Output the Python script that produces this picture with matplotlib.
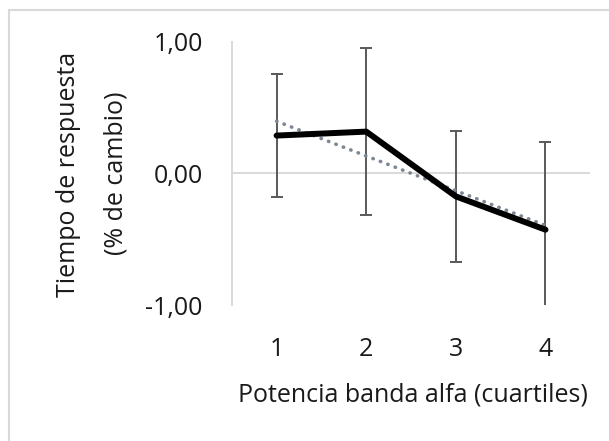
import numpy as np
import matplotlib
matplotlib.use("Agg")
import matplotlib.pyplot as plt
from matplotlib.patches import Rectangle

# data
cuartiles = [1, 2, 3, 4]
tick_labels = ["1", "2", "3", "4"]
tiempo = [0.287, 0.317, -0.175, -0.428]
error = [0.464, 0.633, 0.497, 0.664]
y_ticks = [-1.0, 0.0, 1.0]

plt.rcParams['font.family'] = ['Open Sans', 'DejaVu Sans']
txt = '#1a1a1a'
fs = 18

fig = plt.figure(figsize=(6.09, 4.41), dpi=100)
ax = fig.add_axes([231.8/609, 136/441, (590.3-231.8)/609, (305-41.7)/441])

# chart border (cut off at right and bottom like the source)
fig.patches.append(Rectangle((9/609, -0.1), 1.2, 1 - 9.5/441 + 0.1,
                             transform=fig.transFigure, fill=False,
                             edgecolor='#d9d9d9', lw=1.5))

ax.axhline(0, color='#d9d9d9', lw=1.4, zorder=1)

ax.errorbar(cuartiles, tiempo, yerr=error, fmt='none', ecolor='#595959',
            elinewidth=1.4, capsize=4.3, capthick=1.4, zorder=2)

# linear trend line
coef = np.polyfit(cuartiles, tiempo, 1)
xt = np.array([cuartiles[0], cuartiles[-1]])
ax.plot(xt, np.polyval(coef, xt), color='#7d8793', lw=2.6,
        linestyle=(0, (0.1, 2.1)), dash_capstyle='round', zorder=3)

ax.plot(cuartiles, tiempo, color='black', lw=4.3, solid_capstyle='round',
        solid_joinstyle='round', zorder=4)

ax.set_xlim(0.5, 4.5)
ax.set_ylim(-1, 1)
ax.set_xticks(cuartiles)
ax.set_xticklabels(tick_labels)
ax.set_yticks(y_ticks)
ax.set_yticklabels([f"{v:.2f}".replace('.', ',') for v in y_ticks])
ax.tick_params(axis='x', length=0, pad=23, labelsize=fs, colors=txt)
ax.tick_params(axis='y', length=0, pad=21, labelsize=fs, colors=txt)

for s in ['top', 'right', 'bottom']:
    ax.spines[s].set_visible(False)
ax.spines['left'].set_color('#d9d9d9')
ax.spines['left'].set_linewidth(1.4)
ax.set_facecolor('none')

fig.text(68.3/609, 1 - 174/441, "Tiempo de respuesta", rotation=90,
         ha='center', va='center', fontsize=fs, color=txt)
fig.text(116/609, 1 - 173/441, "(% de cambio)", rotation=90,
         ha='center', va='center', fontsize=fs, color=txt)
fig.text(412.6/609, 1 - 395/441, "Potencia banda alfa (cuartiles)",
         ha='center', va='center', fontsize=fs, color=txt)

fig.savefig("out.png", dpi=100)
